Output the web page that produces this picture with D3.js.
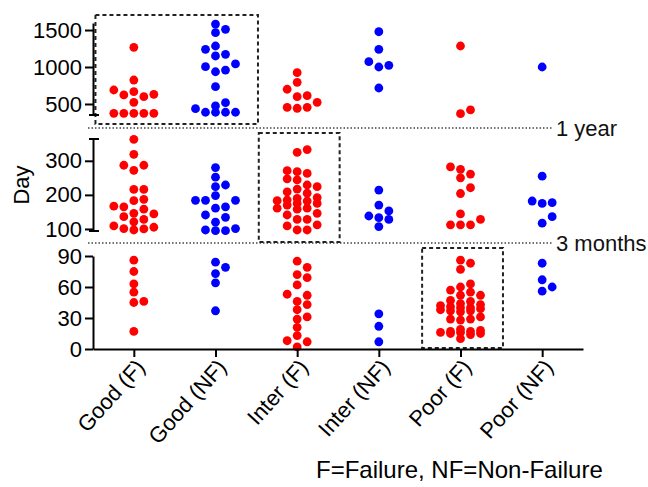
<!DOCTYPE html>
<html>
<head>
<meta charset="utf-8">
<script src="https://cdn.jsdelivr.net/npm/d3@7"></script>
<style>
  body { margin: 0; background: #fff; }
  text { font-family: "Liberation Sans", Arial, sans-serif; }
</style>
</head>
<body>
<div id="chart"></div>
<script>
const categories = ['Good (F)', 'Good (NF)', 'Inter (F)', 'Inter (NF)', 'Poor (F)', 'Poor (NF)'];
const failure = [true, false, true, false, true, false];

// days > 1 year
const overYear = [
    [1266, 824, 689, 666, 631, 622, 599, 523, 374, 374, 374, 374, 374],
    [1581, 1509, 1464, 1284, 1239, 1172, 1149, 1041, 1004, 959, 936, 734, 518, 473, 437, 388, 388, 388, 388],
    [923, 793, 699, 612, 599, 523, 455, 455, 442],
    [1477, 1239, 1072, 1023, 1000, 716],
    [1284, 419, 369],
    [1000]
];
// 3 months - 1 year
const midRange = [
    [363, 319, 287, 287, 272, 216, 216, 187, 183, 167, 165, 158, 146, 144, 136, 128, 121, 109, 105, 101, 100, 97],
    [280, 252, 229, 224, 198, 184, 184, 184, 165, 161, 141, 134, 120, 101, 97, 95, 95],
    [333, 325, 271, 268, 263, 247, 244, 229, 224, 217, 209, 205, 192, 190, 185, 183, 182, 175, 175, 170, 161, 161, 158, 146, 141, 128, 128, 112, 109, 97, 97],
    [214, 170, 153, 138, 133, 128, 107],
    [282, 275, 261, 250, 221, 204, 144, 128, 112, 112, 112],
    [255, 182, 177, 175, 136, 117]
];
// < 3 months
const underThree = [
    [86, 75, 63, 55, 46, 45, 17],
    [84, 79, 73, 64, 37],
    [85, 79, 72, 69, 62, 53, 52, 46, 43, 38, 31, 29, 21, 13, 8, 7, 2],
    [34, 22, 7],
    [86, 83, 77, 63, 60, 57, 55, 52, 52, 47, 46, 44, 43, 42, 41, 40, 40, 39, 38, 37, 37, 36, 31, 29, 29, 28, 19, 18, 17, 17, 16, 16, 15, 15, 14, 10],
    [83, 67, 60, 56]
];

const topTicks = [500, 1000, 1500];
const midTicks = [100, 200, 300];
const lowTicks = [0, 30, 60, 90];
const breakLabels = ['1 year', '3 months'];
const highlights = [
    {panel: 0, from: 'Good (F)', to: 'Good (NF)'},
    {panel: 1, from: 'Inter (F)', to: 'Inter (F)'},
    {panel: 2, from: 'Poor (F)', to: 'Poor (F)'}
];
const note = 'F=Failure, NF=Non-Failure';

const width = 648, height = 487;
const axisX = 93, axisRight = 583;
const dotR = 4.4, colStep = 10;

const svg = d3.select('#chart')
    .append('svg')
    .attr('width', width)
    .attr('height', height);

const x = d3.scalePoint()
    .domain(categories)
    .range([axisX, axisRight])
    .padding(0.5);

const panels = [
    {data: overYear, ticks: topTicks, y: d3.scaleLinear().domain([351, 1595]).range([115, 23]), capTop: false, capBottom: true},
    {data: midRange, ticks: midTicks, y: d3.scaleLinear().domain([94, 364]).range([231, 139]), capTop: true, capBottom: true},
    {data: underThree, ticks: lowTicks, y: d3.scaleLinear().domain([0, 90]).range([349, 256]), capTop: false, capBottom: false}
];

// prism-like column scatter: at most 5 columns, overlap allowed when crowded
function swarm(vals, cx, y) {
    const placed = [];
    const offsets = [0, 1, -1, 2, -2];
    vals.slice().sort((a, b) => a - b).forEach(v => {
        const py = y(v);
        let best = null, bestGap = -1;
        for (const off of offsets) {
            const px = cx + off * colStep;
            const gap = d3.min(placed, p => Math.hypot(p.x - px, p.y - py));
            if (gap === undefined || gap >= 8) { best = px; bestGap = Infinity; break; }
            if (gap > bestGap + 0.5) { bestGap = gap; best = px; }
        }
        placed.push({x: best, y: py, v: v});
    });
    return placed;
}

// break lines
const breakY = [(panels[0].y.range()[0] + panels[1].y.range()[1]) / 2 + 1, (panels[1].y.range()[0] + panels[2].y.range()[1]) / 2 - 0.5];
breakY.forEach((by, i) => {
    svg.append('line')
        .attr('x1', axisX - 5).attr('x2', 552)
        .attr('y1', by).attr('y2', by)
        .attr('stroke', '#444')
        .attr('stroke-width', 1.5)
        .attr('stroke-dasharray', '1.5,2');
    svg.append('text')
        .attr('x', 556).attr('y', by)
        .attr('dy', '0.35em')
        .attr('font-size', 22)
        .attr('fill', '#111')
        .text(breakLabels[i]);
});

// highlight boxes
highlights.forEach(h => {
    const p = panels[h.panel];
    const r = p.y.range();
    const x0 = x(h.from) - x.step() * 0.47, x1 = x(h.to) + x.step() * 0.52;
    const y0 = r[1] - (h.panel === 1 ? 6 : 8);
    const y1 = r[0] + (h.panel === 2 ? -1 : (h.panel === 1 ? 11 : 9));
    svg.append('rect')
        .attr('x', x0).attr('y', y0)
        .attr('width', x1 - x0).attr('height', y1 - y0)
        .attr('fill', 'none')
        .attr('stroke', '#222')
        .attr('stroke-width', 2)
        .attr('stroke-dasharray', '4,3');
});

panels.forEach(p => {
    const g = svg.append('g').attr('transform', `translate(${axisX},0)`);
    g.call(d3.axisLeft(p.y).tickValues(p.ticks).tickFormat(d3.format('d')).tickSize(8).tickSizeOuter(0).tickPadding(3));
    g.select('.domain').attr('stroke', '#000').attr('stroke-width', 2);
    g.selectAll('.tick line').attr('stroke', '#000').attr('stroke-width', 2);
    g.selectAll('.tick text')
        .attr('font-size', 22)
        .attr('font-family', '"Liberation Sans", Arial, sans-serif')
        .attr('fill', '#000');
    const r = p.y.range();
    if (p.capTop) g.append('line').attr('x1', -4).attr('x2', 6).attr('y1', r[1]).attr('y2', r[1]).attr('stroke', '#000').attr('stroke-width', 2);
    if (p.capBottom) g.append('line').attr('x1', -4).attr('x2', 6).attr('y1', r[0]).attr('y2', r[0]).attr('stroke', '#000').attr('stroke-width', 2);

    p.data.forEach((vals, i) => {
        const pts = swarm(vals, x(categories[i]), p.y);
        svg.append('g').selectAll('circle')
            .data(pts)
            .enter()
            .append('circle')
            .attr('cx', d => d.x)
            .attr('cy', d => d.y)
            .attr('r', dotR)
            .attr('fill', failure[i] ? '#ff0000' : '#0000ff');
    });
});

// x axis
const xg = svg.append('g').attr('transform', `translate(0,${panels[2].y.range()[0]})`);
xg.call(d3.axisBottom(x).tickSize(8).tickSizeOuter(0));
xg.select('.domain').attr('stroke', '#000').attr('stroke-width', 2);
xg.selectAll('.tick line').attr('stroke', '#000').attr('stroke-width', 2);
xg.selectAll('.tick text')
    .attr('font-size', 22)
    .attr('font-family', '"Liberation Sans", Arial, sans-serif')
    .attr('fill', '#000')
    .attr('text-anchor', 'end')
    .attr('transform', 'translate(6,14) rotate(-48)')
    .attr('y', 0).attr('dy', '0.35em');

svg.append('text')
    .attr('transform', 'translate(29,185) rotate(-90)')
    .attr('text-anchor', 'middle')
    .attr('font-size', 22)
    .text('Day');

svg.append('text')
    .attr('x', 316).attr('y', 478)
    .attr('font-size', 24)
    .text(note);
</script>
</body>
</html>
